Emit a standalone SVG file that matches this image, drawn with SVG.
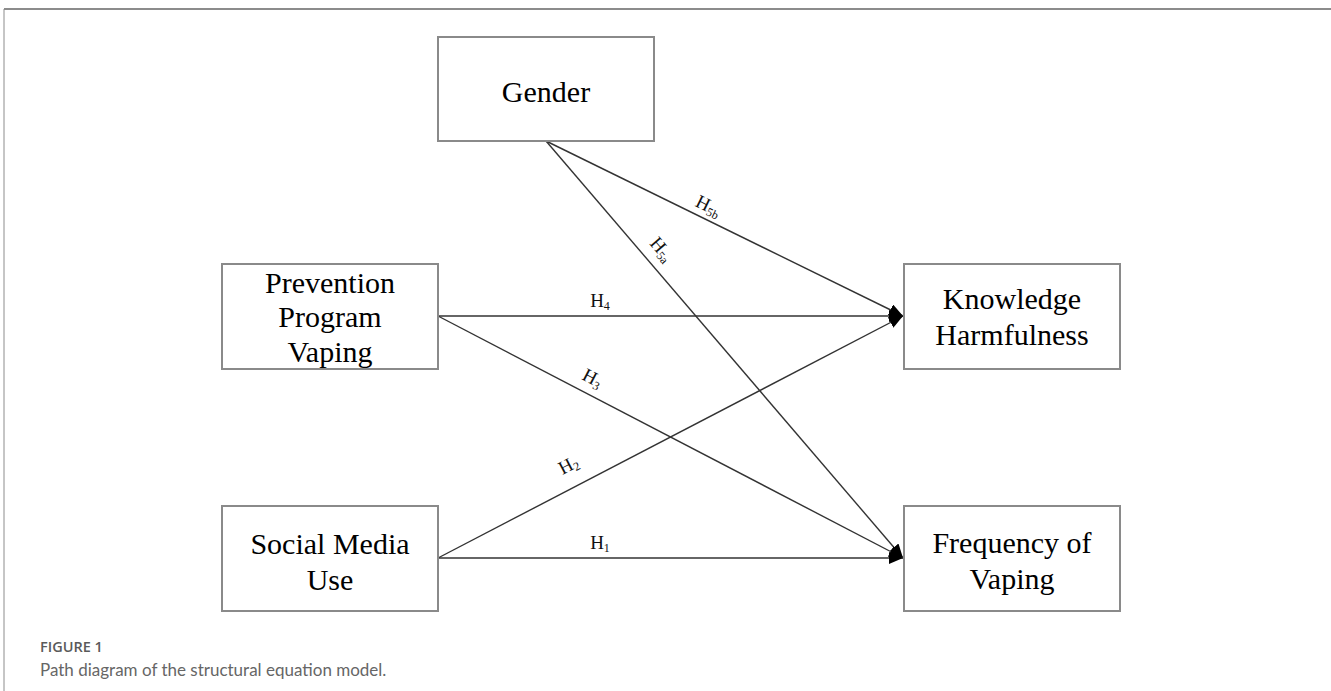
<svg xmlns="http://www.w3.org/2000/svg" width="1331" height="691" viewBox="0 0 1331 691">
<style>
.box{fill:#fff;stroke:#8a8a8a;stroke-width:2}
.nt{font-family:"Liberation Serif","Times New Roman",serif;font-size:30px;fill:#000;text-anchor:middle}
.lab{font-family:"Liberation Serif","Times New Roman",serif;font-size:19px;fill:#111;text-anchor:middle}
.sub{font-size:12px}
.edge{stroke:#333;stroke-width:1.4;fill:none;marker-end:url(#ah)}
.frame{stroke:#8c8c8c;fill:none}
.cap1{font-family:"Open Sans","Noto Sans",sans-serif;font-size:14.5px;font-weight:600;fill:#5a5a5a}
.cap2{font-family:Lato,"Open Sans",sans-serif;font-size:17px;fill:#666}
</style>
<defs>
<marker id="ah" viewBox="0 0 14 12" refX="14" refY="6" markerWidth="14" markerHeight="12" markerUnits="userSpaceOnUse" orient="auto">
<path d="M0,0 L14,6 L0,12 z" fill="#000"/>
</marker>
</defs>
<rect width="1331" height="691" fill="#fff"/>
<line class="frame" x1="4" y1="9" x2="1331" y2="9" stroke-width="2"/>
<line class="frame" x1="4" y1="9" x2="4" y2="691" stroke-width="1"/>
<g id="connectors">
<line class="edge" x1="546" y1="141" x2="903" y2="316"/>
<line class="edge" x1="546" y1="141" x2="903" y2="558"/>
<line class="edge" x1="438" y1="316" x2="903" y2="316"/>
<line class="edge" x1="438" y1="316" x2="903" y2="558"/>
<line class="edge" x1="438" y1="558" x2="903" y2="316"/>
<line class="edge" x1="438" y1="558" x2="903" y2="558"/>
<text class="lab" transform="translate(708,207) rotate(26.1)" x="0" y="5">H<tspan class="sub" dy="3">5b</tspan></text>
<text class="lab" transform="translate(661,250) rotate(49.4)" x="0" y="5">H<tspan class="sub" dy="3">5a</tspan></text>
<text class="lab" x="600" y="307">H<tspan class="sub" dy="3">4</tspan></text>
<text class="lab" transform="translate(592,379) rotate(27.5)" x="0" y="5">H<tspan class="sub" dy="3">3</tspan></text>
<text class="lab" transform="translate(569,466) rotate(-27.5)" x="0" y="5">H<tspan class="sub" dy="3">2</tspan></text>
<text class="lab" x="600" y="549">H<tspan class="sub" dy="3">1</tspan></text>
</g>
<g id="gender">
<rect class="box" x="438" y="37" width="216" height="104"/>
<text class="nt" x="546" y="102">Gender</text>
</g>
<g id="prevention">
<rect class="box" x="222" y="264" width="216" height="105"/>
<text class="nt" x="330" y="293">Prevention</text>
<text class="nt" x="330" y="327">Program</text>
<text class="nt" x="330" y="362">Vaping</text>
</g>
<g id="social">
<rect class="box" x="222" y="506" width="216" height="105"/>
<text class="nt" x="330" y="554">Social Media</text>
<text class="nt" x="330" y="590">Use</text>
</g>
<g id="knowledge">
<rect class="box" x="904" y="264" width="216" height="105"/>
<text class="nt" x="1012" y="309">Knowledge</text>
<text class="nt" x="1012" y="345">Harmfulness</text>
</g>
<g id="frequency">
<rect class="box" x="904" y="506" width="216" height="105"/>
<text class="nt" x="1012" y="553">Frequency of</text>
<text class="nt" x="1012" y="589">Vaping</text>
</g>
<text class="cap1" x="40" y="652">FIGURE 1</text>
<text class="cap2" x="40" y="676">Path diagram of the structural equation model.</text>
</svg>
